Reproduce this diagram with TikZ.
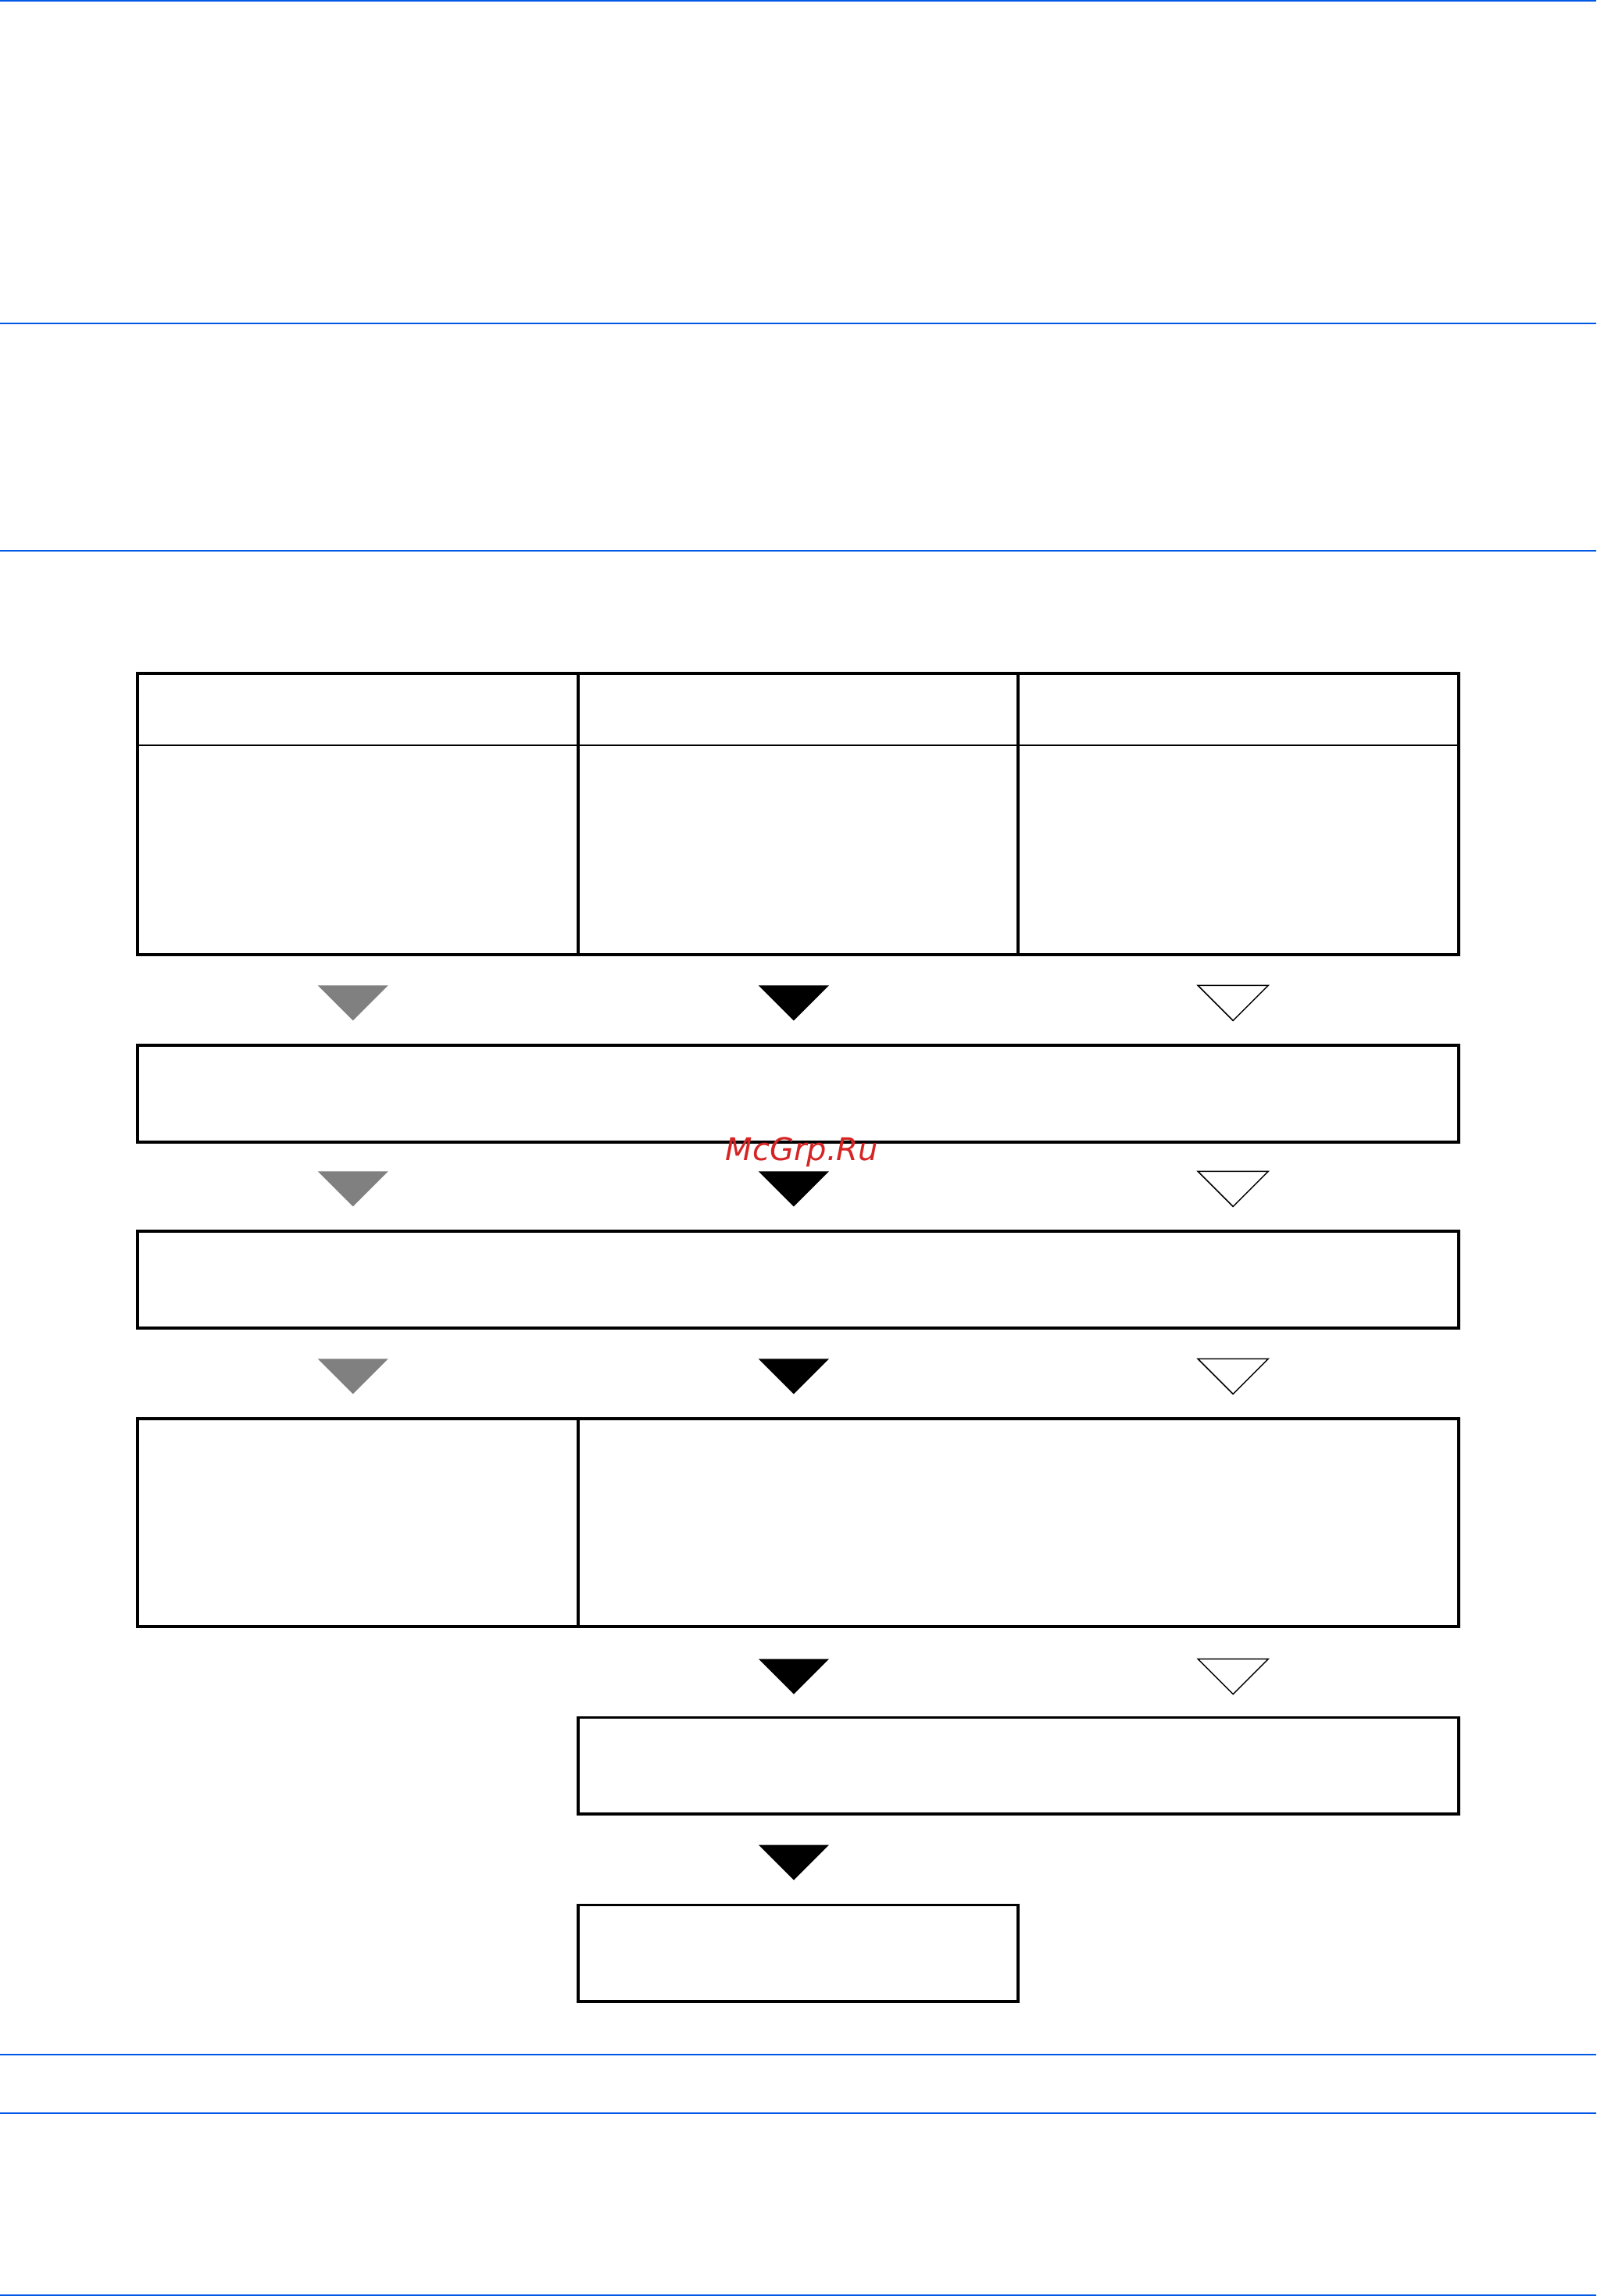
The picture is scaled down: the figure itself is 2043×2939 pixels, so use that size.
\documentclass[tikz,border=0pt]{standalone}
\usepackage{fontspec}
\newfontfamily\wmfont{DejaVu Sans}
\definecolor{rulecol}{RGB}{0,88,230}
\definecolor{wmcol}{RGB}{214,36,36}
\definecolor{tgrey}{RGB}{128,128,128}
\tikzset{
  box/.style={draw, line width=3.8pt, inner sep=0pt, outer sep=0pt},
  thinsep/.style={line width=1.9pt},
  thicksep/.style={line width=3.8pt},
  rulebar/.style={draw=rulecol, line width=2.2pt},
  downtri/.pic={\path[pic actions] (-45,0) -- (45,0) -- (0,-45) -- cycle;},
  greytri/.style={fill=tgrey},
  blacktri/.style={fill=black},
  whitetri/.style={fill=white, draw=black, line width=1.5pt, line join=miter}
}
\begin{document}
\begin{tikzpicture}[x=1pt,y=1pt]
\useasboundingbox (0,0) rectangle (2043,-2939);
% blue rules
\coordinate (r1l) at (0,-1);      \coordinate (r1r) at (2043,-1);
\coordinate (r2l) at (0,-414.2);  \coordinate (r2r) at (2043,-414.2);
\coordinate (r3l) at (0,-704.7);  \coordinate (r3r) at (2043,-704.7);
\coordinate (r4l) at (0,-2629.6); \coordinate (r4r) at (2043,-2629.6);
\coordinate (r5l) at (0,-2704.6); \coordinate (r5r) at (2043,-2704.6);
\coordinate (r6l) at (0,-2938);   \coordinate (r6r) at (2043,-2938);
\foreach \i in {1,...,6} {\draw[rulebar] (r\i l) -- (r\i r);}

% table
\node[box, anchor=north west, minimum width=1690.6, minimum height=360] (tbl) at (176.2,-862) {};
\coordinate (hl) at (176.2,-954);
\coordinate (hr) at (1866.8,-954);
\draw[thinsep] (hl) -- (hr);
\coordinate (d1t) at (740.3,-862);  \coordinate (d1b) at (740.3,-1222);
\coordinate (d2t) at (1302.6,-862); \coordinate (d2b) at (1302.6,-1222);
\draw[thicksep] (d1t) -- (d1b);
\draw[thicksep] (d2t) -- (d2b);

% boxes
\node[box, anchor=north west, minimum width=1690.6, minimum height=123.8] (b2) at (176.2,-1338.2) {};
\node[box, anchor=north west, minimum width=1690.6, minimum height=123.8] (b3) at (176.2,-1576.3) {};
\node[box, anchor=north west, minimum width=1690.6, minimum height=266.1] (b4) at (176.2,-1816.2) {};
\coordinate (d4t) at (740.3,-1816.2); \coordinate (d4b) at (740.3,-2082.3);
\draw[thicksep] (d4t) -- (d4b);
\node[box, anchor=north west, minimum width=1126.5, minimum height=123.8] (b5) at (740.3,-2198.5) {};
\node[box, anchor=north west, minimum width=562.3, minimum height=123.8] (b6) at (740.3,-2438.4) {};

% triangles
\foreach \y in {-1261.4,-1499.4,-1739.4} {
  \pic[greytri] at (451.7,\y) {downtri};
  \pic[blacktri] at (1015.9,\y) {downtri};
  \pic[whitetri] at (1578.2,\y) {downtri};
}
\pic[blacktri] at (1015.9,-2123.6) {downtri};
\pic[whitetri] at (1578.2,-2123.6) {downtri};
\pic[blacktri] at (1015.9,-2361.6) {downtri};

% watermark
\node[anchor=base, inner sep=0pt, text=wmcol, font=\wmfont\itshape\fontsize{40}{40}\selectfont] (wm) at (1026.5,-1485) {McGrp.Ru};
\end{tikzpicture}
\end{document}
